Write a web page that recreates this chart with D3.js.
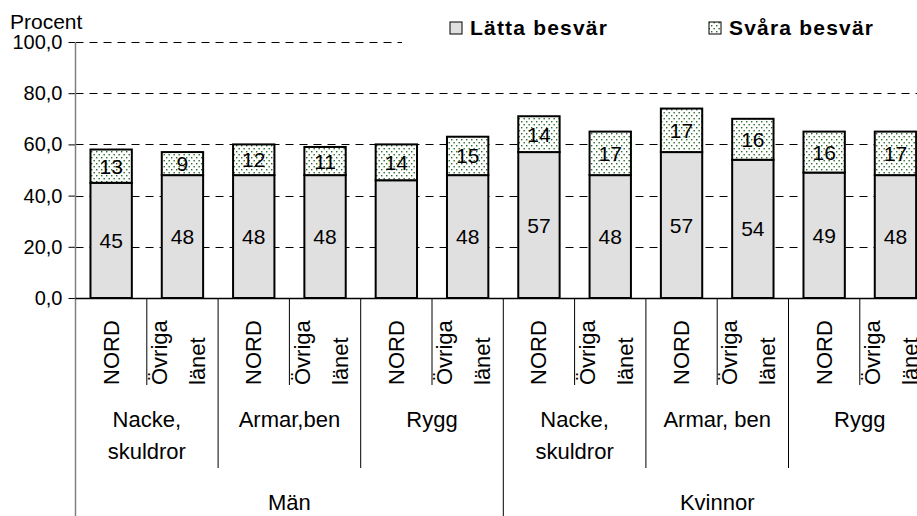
<!DOCTYPE html>
<html>
<head>
<meta charset="utf-8">
<script src="https://cdn.jsdelivr.net/npm/d3@7"></script>
<style>
  body { margin: 0; background: #fff; }
  svg { display: block; font-family: "Liberation Sans", Arial, sans-serif; }
</style>
</head>
<body>
<div class="chart"></div>
<script>
// Data
var omraden = ["NORD", "Övriga länet", "NORD", "Övriga länet", "NORD", "Övriga länet",
               "NORD", "Övriga länet", "NORD", "Övriga länet", "NORD", "Övriga länet"];
var besvarTyp = [["Nacke,", "skuldror"], ["Armar,ben"], ["Rygg"],
                 ["Nacke,", "skuldror"], ["Armar, ben"], ["Rygg"]];
var kon = ["Män", "Kvinnor"];
var latta = [45, 48, 48, 48, 46, 48, 57, 48, 57, 54, 49, 48];
var lattaEtikett = [45, 48, 48, 48, null, 48, 57, 48, 57, 54, 49, 48];
var svara = [13, 9, 12, 11, 14, 15, 14, 17, 17, 16, 16, 17];
var yTicks = [0, 20, 40, 60, 80, 100];

var width = 917, height = 516;
var x0 = 75.5, y0 = 298, yTop = 42;
var step = 71.3;

var svg = d3.select(".chart").append("svg")
  .attr("width", width)
  .attr("height", height);

// prickigt mönster för svåra besvär
var pat = svg.append("defs").append("pattern")
  .attr("id", "prickar")
  .attr("patternUnits", "userSpaceOnUse")
  .attr("width", 5).attr("height", 6);
pat.append("rect").attr("width", 5).attr("height", 6).attr("fill", "#fff");
pat.append("rect").attr("x", 1).attr("y", 1).attr("width", 1.4).attr("height", 1.4).attr("fill", "#2a6a2a");
pat.append("rect").attr("x", 3.5).attr("y", 4).attr("width", 1.4).attr("height", 1.4).attr("fill", "#2a6a2a");

var x = d3.scaleBand()
  .domain(d3.range(latta.length))
  .range([x0, x0 + step * latta.length])
  .paddingInner(0).paddingOuter(0);

var y = d3.scaleLinear().domain([0, 100]).range([y0, yTop]);

var sv = d3.formatLocale({decimal: ",", thousands: " ", grouping: [3], currency: ["", " kr"]});
var fmt = sv.format(".1f");

// rutnät
svg.selectAll(".grid")
  .data(yTicks.filter(function(d) { return d > 0; }))
  .enter().append("line")
  .attr("class", "grid")
  .attr("x1", x0)
  .attr("x2", function(d) { return d == 100 ? 402 : width; })
  .attr("y1", function(d) { return Math.round(y(d)) + 0.5; })
  .attr("y2", function(d) { return Math.round(y(d)) + 0.5; })
  .attr("stroke", "#000")
  .attr("stroke-width", 1)
  .attr("stroke-dasharray", "8,6");

// y-axel
var yAxis = d3.axisLeft(y).tickValues(yTicks).tickSize(7).tickFormat(fmt);
var gy = svg.append("g")
  .attr("transform", "translate(" + x0 + ",0)")
  .call(yAxis);
gy.select(".domain").remove();
gy.selectAll(".tick line").attr("stroke", "#000");
gy.selectAll(".tick text")
  .attr("x", -13)
  .attr("font-size", 20)
  .attr("font-family", "Liberation Sans, Arial, sans-serif")
  .attr("fill", "#000");
svg.append("line")
  .attr("x1", x0).attr("x2", x0)
  .attr("y1", yTop).attr("y2", height)
  .attr("stroke", "#808080").attr("stroke-width", 1.5);

svg.append("text")
  .attr("x", 10).attr("y", 29)
  .attr("font-size", 21)
  .text("Procent");

// staplar
var bw = step * 0.58;
var bars = svg.selectAll(".stapel")
  .data(latta)
  .enter().append("g")
  .attr("class", "stapel");

bars.append("rect")
  .attr("x", function(d, i) { return x(i) + (step - bw) / 2; })
  .attr("y", function(d) { return y(d); })
  .attr("width", bw)
  .attr("height", function(d) { return y0 - y(d); })
  .attr("fill", "#e0e0e0")
  .attr("stroke", "#000")
  .attr("stroke-width", 2);

bars.append("rect")
  .attr("x", function(d, i) { return x(i) + (step - bw) / 2; })
  .attr("y", function(d, i) { return y(d + svara[i]); })
  .attr("width", bw)
  .attr("height", function(d, i) { return y(d) - y(d + svara[i]); })
  .attr("fill", "url(#prickar)")
  .attr("stroke", "#000")
  .attr("stroke-width", 2);

bars.append("text")
  .attr("x", function(d, i) { return x(i) + step / 2; })
  .attr("y", function(d) { return (y(d) + y0) / 2; })
  .attr("text-anchor", "middle")
  .attr("dominant-baseline", "central")
  .attr("font-size", 21)
  .text(function(d, i) { return lattaEtikett[i] == null ? "" : lattaEtikett[i]; });

bars.append("text")
  .attr("x", function(d, i) { return x(i) + step / 2; })
  .attr("y", function(d, i) { return (y(d) + y(d + svara[i])) / 2; })
  .attr("text-anchor", "middle")
  .attr("dominant-baseline", "central")
  .attr("font-size", 21)
  .text(function(d, i) { return svara[i]; });

// x-axel
svg.append("line")
  .attr("x1", x0).attr("x2", width)
  .attr("y1", y0 + 0.5).attr("y2", y0 + 0.5)
  .attr("stroke", "#000").attr("stroke-width", 1.5);

// avdelare mellan kategorierna
svg.selectAll(".avd")
  .data(d3.range(1, latta.length + 1))
  .enter().append("line")
  .attr("class", "avd")
  .attr("x1", function(d) { return x0 + d * step; })
  .attr("x2", function(d) { return x0 + d * step; })
  .attr("y1", y0)
  .attr("y2", function(d) { return d % 6 == 0 ? height : (d % 2 == 0 ? 468 : 385); })
  .attr("stroke", "#000").attr("stroke-width", 1);

// områdesetiketter (roterade)
svg.selectAll(".omr")
  .data(omraden)
  .enter().append("g")
  .attr("class", "omr")
  .each(function(d, i) {
    var rader = d.split(" ");
    var cx = x(i) + step / 2;
    var offs = rader.length == 1 ? [0] : [-23, 15];
    var g = d3.select(this);
    rader.forEach(function(r, k) {
      g.append("text")
        .attr("transform", "translate(" + (cx + offs[k]) + ",385) rotate(-90)")
        .attr("dominant-baseline", "central")
        .attr("font-size", 22)
        .text(r);
    });
  });

// besvärstyper
svg.selectAll(".typ")
  .data(besvarTyp)
  .enter().append("text")
  .attr("class", "typ")
  .attr("text-anchor", "middle")
  .attr("font-size", 22)
  .each(function(d, i) {
    var t = d3.select(this);
    d.forEach(function(r, k) {
      t.append("tspan")
        .attr("x", x0 + step * (2 * i + 1))
        .attr("y", 427 + k * 32)
        .text(r);
    });
  });

// kön
svg.selectAll(".kon")
  .data(kon)
  .enter().append("text")
  .attr("class", "kon")
  .attr("x", function(d, i) { return x0 + step * (6 * i + 3); })
  .attr("y", 510)
  .attr("text-anchor", "middle")
  .attr("font-size", 22)
  .text(function(d) { return d; });

// legend
var legend = [{namn: "Lätta besvär", fill: "#e0e0e0", x: 450},
              {namn: "Svåra besvär", fill: "url(#prickar)", x: 709}];
var lg = svg.selectAll(".legend")
  .data(legend)
  .enter().append("g")
  .attr("class", "legend");
lg.append("rect")
  .attr("x", function(d) { return d.x; })
  .attr("y", 22)
  .attr("width", 12).attr("height", 12)
  .attr("fill", function(d) { return d.fill; })
  .attr("stroke", "#000").attr("stroke-width", 1);
lg.append("text")
  .attr("x", function(d) { return d.x + 20; })
  .attr("y", 35)
  .attr("font-size", 21)
  .attr("font-weight", "bold")
  .attr("letter-spacing", 1.2)
  .text(function(d) { return d.namn; });
</script>
</body>
</html>
